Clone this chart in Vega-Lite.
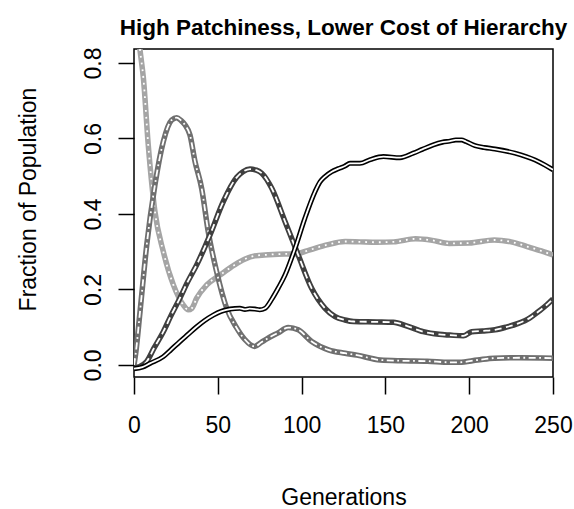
{
  "$schema": "https://vega.github.io/schema/vega-lite/v6.json",
  "width": 419,
  "height": 328,
  "autosize": {"type": "none"},
  "padding": {"left": 134, "top": 49, "right": 21, "bottom": 132},
  "background": "white",
  "title": {"text": "High Patchiness, Lower Cost of Hierarchy", "font": "Liberation Sans", "fontSize": 22.5, "fontWeight": "bold", "color": "black", "anchor": "middle", "frame": "group", "offset": 7},
  "config": {
    "view": {"stroke": "black", "strokeWidth": 1.5},
    "axis": {"labelFont": "Liberation Sans", "titleFont": "Liberation Sans", "labelColor": "black", "titleColor": "black", "tickColor": "black", "tickWidth": 1.5, "domain": false, "grid": false, "titleFontWeight": "normal"}
  },
  "data": {"values": [
    {"g":0,"v":0.98,"s":"A"},{"g":2,"v":0.9,"s":"A"},{"g":3.6,"v":0.834,"s":"A"},{"g":5.6,"v":0.76,"s":"A"},{"g":8.5,"v":0.583,"s":"A"},{"g":12.5,"v":0.406,"s":"A"},{"g":17.5,"v":0.3,"s":"A"},{"g":23.5,"v":0.212,"s":"A"},{"g":29.4,"v":0.159,"s":"A"},{"g":32.4,"v":0.146,"s":"A"},{"g":34.5,"v":0.15,"s":"A"},{"g":37.4,"v":0.177,"s":"A"},{"g":43.4,"v":0.212,"s":"A"},{"g":51.3,"v":0.238,"s":"A"},{"g":60,"v":0.265,"s":"A"},{"g":66,"v":0.28,"s":"A"},{"g":72,"v":0.289,"s":"A"},{"g":80,"v":0.292,"s":"A"},{"g":90,"v":0.294,"s":"A"},{"g":96,"v":0.294,"s":"A"},{"g":105,"v":0.305,"s":"A"},{"g":115,"v":0.318,"s":"A"},{"g":126,"v":0.327,"s":"A"},{"g":135,"v":0.326,"s":"A"},{"g":145,"v":0.325,"s":"A"},{"g":155,"v":0.326,"s":"A"},{"g":168,"v":0.334,"s":"A"},{"g":178,"v":0.33,"s":"A"},{"g":188,"v":0.322,"s":"A"},{"g":200,"v":0.323,"s":"A"},{"g":215,"v":0.331,"s":"A"},{"g":225,"v":0.326,"s":"A"},{"g":235,"v":0.313,"s":"A"},{"g":243,"v":0.302,"s":"A"},{"g":250,"v":0.291,"s":"A"},
    {"g":0,"v":0.0,"s":"B"},{"g":1,"v":0.03,"s":"B"},{"g":3.6,"v":0.141,"s":"B"},{"g":7.6,"v":0.318,"s":"B"},{"g":12.5,"v":0.477,"s":"B"},{"g":17.5,"v":0.592,"s":"B"},{"g":22.5,"v":0.649,"s":"B"},{"g":25.5,"v":0.655,"s":"B"},{"g":28,"v":0.648,"s":"B"},{"g":30.4,"v":0.636,"s":"B"},{"g":33.4,"v":0.609,"s":"B"},{"g":36.4,"v":0.539,"s":"B"},{"g":40.4,"v":0.467,"s":"B"},{"g":44.3,"v":0.353,"s":"B"},{"g":49.3,"v":0.247,"s":"B"},{"g":55.3,"v":0.15,"s":"B"},{"g":61,"v":0.1,"s":"B"},{"g":66,"v":0.068,"s":"B"},{"g":72,"v":0.049,"s":"B"},{"g":76,"v":0.06,"s":"B"},{"g":80,"v":0.071,"s":"B"},{"g":86,"v":0.085,"s":"B"},{"g":92,"v":0.099,"s":"B"},{"g":98,"v":0.093,"s":"B"},{"g":106,"v":0.062,"s":"B"},{"g":116,"v":0.04,"s":"B"},{"g":126,"v":0.031,"s":"B"},{"g":133,"v":0.026,"s":"B"},{"g":147,"v":0.013,"s":"B"},{"g":160,"v":0.011,"s":"B"},{"g":175,"v":0.01,"s":"B"},{"g":188,"v":0.007,"s":"B"},{"g":194,"v":0.007,"s":"B"},{"g":205,"v":0.013,"s":"B"},{"g":215,"v":0.018,"s":"B"},{"g":230,"v":0.019,"s":"B"},{"g":250,"v":0.018,"s":"B"},
    {"g":0,"v":-0.008,"s":"C"},{"g":3,"v":-0.005,"s":"C"},{"g":7.6,"v":0.009,"s":"C"},{"g":12,"v":0.045,"s":"C"},{"g":17.5,"v":0.088,"s":"C"},{"g":22,"v":0.13,"s":"C"},{"g":27.4,"v":0.177,"s":"C"},{"g":32,"v":0.22,"s":"C"},{"g":37.4,"v":0.265,"s":"C"},{"g":45.3,"v":0.344,"s":"C"},{"g":53.3,"v":0.433,"s":"C"},{"g":61.3,"v":0.497,"s":"C"},{"g":65,"v":0.512,"s":"C"},{"g":69.2,"v":0.519,"s":"C"},{"g":73,"v":0.516,"s":"C"},{"g":76.2,"v":0.508,"s":"C"},{"g":82.2,"v":0.468,"s":"C"},{"g":90.1,"v":0.38,"s":"C"},{"g":98,"v":0.291,"s":"C"},{"g":106,"v":0.203,"s":"C"},{"g":114,"v":0.15,"s":"C"},{"g":120,"v":0.128,"s":"C"},{"g":125.9,"v":0.119,"s":"C"},{"g":131,"v":0.115,"s":"C"},{"g":145,"v":0.114,"s":"C"},{"g":154.7,"v":0.113,"s":"C"},{"g":163,"v":0.103,"s":"C"},{"g":172.6,"v":0.088,"s":"C"},{"g":182,"v":0.081,"s":"C"},{"g":188.5,"v":0.079,"s":"C"},{"g":196.5,"v":0.077,"s":"C"},{"g":201.5,"v":0.088,"s":"C"},{"g":208,"v":0.09,"s":"C"},{"g":215.4,"v":0.093,"s":"C"},{"g":222,"v":0.1,"s":"C"},{"g":229.3,"v":0.11,"s":"C"},{"g":236,"v":0.124,"s":"C"},{"g":241.2,"v":0.141,"s":"C"},{"g":246,"v":0.158,"s":"C"},{"g":250,"v":0.175,"s":"C"},
    {"g":0,"v":-0.01,"s":"D"},{"g":5,"v":-0.006,"s":"D"},{"g":9.5,"v":0.004,"s":"D"},{"g":17.5,"v":0.022,"s":"D"},{"g":22,"v":0.04,"s":"D"},{"g":27.4,"v":0.062,"s":"D"},{"g":32,"v":0.08,"s":"D"},{"g":37.4,"v":0.101,"s":"D"},{"g":42,"v":0.117,"s":"D"},{"g":47.3,"v":0.132,"s":"D"},{"g":52,"v":0.142,"s":"D"},{"g":57.3,"v":0.148,"s":"D"},{"g":63.2,"v":0.15,"s":"D"},{"g":66.2,"v":0.147,"s":"D"},{"g":69,"v":0.149,"s":"D"},{"g":72.2,"v":0.148,"s":"D"},{"g":75,"v":0.146,"s":"D"},{"g":78.2,"v":0.15,"s":"D"},{"g":82.2,"v":0.174,"s":"D"},{"g":86,"v":0.203,"s":"D"},{"g":90.1,"v":0.238,"s":"D"},{"g":96.1,"v":0.309,"s":"D"},{"g":102,"v":0.389,"s":"D"},{"g":108,"v":0.459,"s":"D"},{"g":111,"v":0.485,"s":"D"},{"g":114,"v":0.499,"s":"D"},{"g":118,"v":0.512,"s":"D"},{"g":122,"v":0.52,"s":"D"},{"g":125.9,"v":0.527,"s":"D"},{"g":128.9,"v":0.534,"s":"D"},{"g":134.8,"v":0.534,"s":"D"},{"g":141,"v":0.544,"s":"D"},{"g":148.8,"v":0.552,"s":"D"},{"g":158.7,"v":0.549,"s":"D"},{"g":166.6,"v":0.561,"s":"D"},{"g":172,"v":0.571,"s":"D"},{"g":178.6,"v":0.583,"s":"D"},{"g":184,"v":0.59,"s":"D"},{"g":188.5,"v":0.593,"s":"D"},{"g":192,"v":0.596,"s":"D"},{"g":195.5,"v":0.596,"s":"D"},{"g":198,"v":0.592,"s":"D"},{"g":203.5,"v":0.581,"s":"D"},{"g":209,"v":0.576,"s":"D"},{"g":215.4,"v":0.572,"s":"D"},{"g":227.3,"v":0.561,"s":"D"},{"g":234,"v":0.552,"s":"D"},{"g":239.3,"v":0.543,"s":"D"},{"g":245,"v":0.53,"s":"D"},{"g":250,"v":0.517,"s":"D"}
  ]},
  "encoding": {
    "x": {"field": "g", "type": "quantitative", "scale": {"domain": [0, 250], "nice": false, "zero": false},
      "axis": {"values": [0, 50, 100, 150, 200, 250], "title": "Generations", "labelFontSize": 23, "titleFontSize": 23, "tickSize": 17, "labelPadding": 20, "labelFlush": false, "labelOverlap": false, "titleY": 120, "titleBaseline": "middle"}},
    "y": {"field": "v", "type": "quantitative", "scale": {"domain": [-0.032, 0.837], "nice": false, "zero": false},
      "axis": {"values": [0, 0.2, 0.4, 0.6, 0.8], "format": ".1f", "title": "Fraction of Population", "labelFontSize": 23, "titleFontSize": 23, "tickSize": 16, "labelPadding": 18, "labelAngle": 270, "labelAlign": "center", "labelBaseline": "alphabetic", "labelFlush": false, "labelOverlap": false, "titleAngle": 270, "titleX": -106, "titleY": 150, "titleAlign": "center", "titleBaseline": "middle"}}
  },
  "layer": [
    {"transform": [{"filter": "datum.s === 'A'"}], "mark": {"type": "line", "clip": true, "color": "#a5a5a5", "strokeWidth": 5.5, "interpolate": "monotone", "strokeJoin": "round"}},
    {"transform": [{"filter": "datum.s === 'A'"}], "mark": {"type": "line", "clip": true, "color": "white", "strokeWidth": 1.8, "strokeDash": [1.8, 5], "interpolate": "monotone"}},
    {"transform": [{"filter": "datum.s === 'B'"}], "mark": {"type": "line", "clip": true, "color": "#6f6f6f", "strokeWidth": 5.5, "interpolate": "monotone", "strokeJoin": "round"}},
    {"transform": [{"filter": "datum.s === 'B'"}], "mark": {"type": "line", "clip": true, "color": "white", "strokeWidth": 1.8, "strokeDash": [7, 3.5, 1.8, 3.5], "interpolate": "monotone"}},
    {"transform": [{"filter": "datum.s === 'C'"}], "mark": {"type": "line", "clip": true, "color": "#3f3f3f", "strokeWidth": 5.5, "interpolate": "monotone", "strokeJoin": "round"}},
    {"transform": [{"filter": "datum.s === 'C'"}], "mark": {"type": "line", "clip": true, "color": "white", "strokeWidth": 1.8, "strokeDash": [7, 4.5], "interpolate": "monotone"}},
    {"transform": [{"filter": "datum.s === 'D'"}], "mark": {"type": "line", "clip": true, "color": "#000000", "strokeWidth": 5, "interpolate": "monotone", "strokeJoin": "round"}},
    {"transform": [{"filter": "datum.s === 'D'"}], "mark": {"type": "line", "clip": true, "color": "white", "strokeWidth": 1.8, "interpolate": "monotone"}}
  ]
}
